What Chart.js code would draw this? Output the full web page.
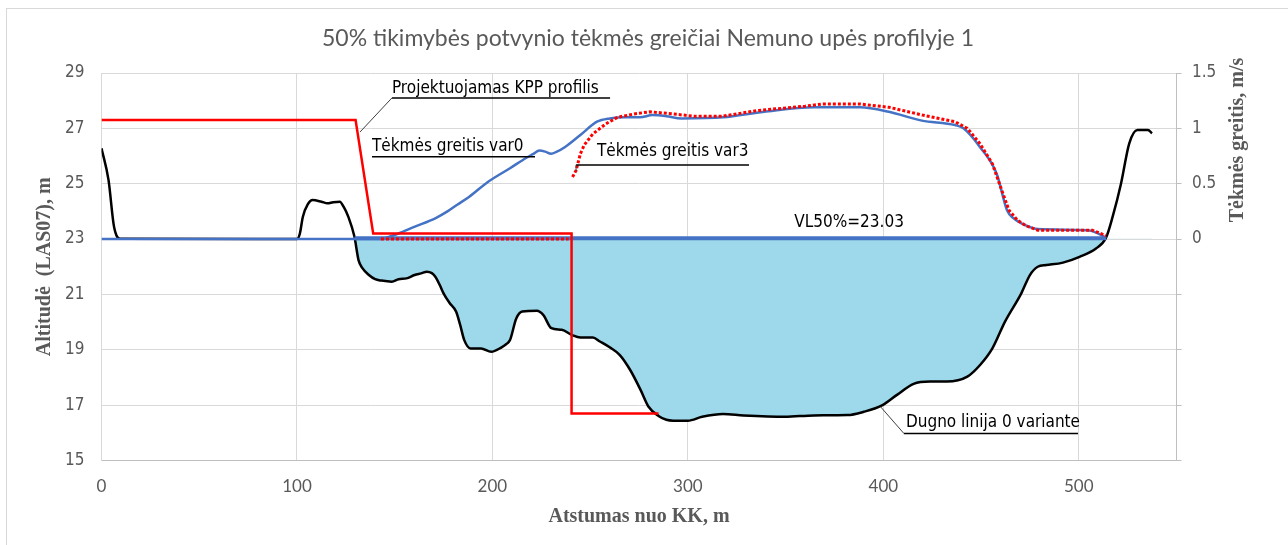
<!DOCTYPE html>
<html>
<head>
<meta charset="utf-8">
<script src="https://cdn.jsdelivr.net/npm/chart.js@4/dist/chart.umd.min.js"></script>
<style>
  html, body { margin: 0; padding: 0; background: #fff; }
  canvas { display: block; }
</style>
</head>
<body>
<canvas id="profileChart" width="1288" height="545"></canvas>
<script>
// river bed (altitude, m) along the cross-section
var bedDist = [0, 3.6, 6.4, 9.6, 100, 101.5, 103, 105.5, 108, 112.5, 115.6, 118.5, 121.9, 124, 126.3, 129.4, 131.5, 133.5, 136.8, 140, 143.2, 148.5, 152, 156, 160.2, 163.5, 166.5, 169, 170.8, 173, 175, 178, 181.4, 183.5, 185.6, 188.8, 194.2, 199.4, 204.7, 207, 209, 212.2, 215.3, 222.8, 226, 230.2, 235.5, 240.8, 245, 251.4, 255, 260, 265.2, 270.5, 275.8, 279.8, 285, 289, 292.5, 300, 307.3, 318, 328.5, 349.7, 364.5, 381.6, 390, 399.6, 407, 415.5, 424, 432.5, 443, 449.5, 455.8, 462.2, 470.6, 475, 479, 483.4, 491.9, 500.4, 508.8, 514, 517.3, 521.6, 525.8, 530, 535.4, 537.5];
var bedAlt = [26.28, 25.13, 23.45, 23.01, 23.0, 23.2, 23.8, 24.25, 24.41, 24.35, 24.29, 24.33, 24.35, 24.15, 23.8, 23.09, 22.24, 21.95, 21.7, 21.55, 21.5, 21.46, 21.55, 21.58, 21.7, 21.76, 21.82, 21.77, 21.64, 21.35, 21.04, 20.7, 20.38, 19.9, 19.35, 19.05, 19.05, 18.93, 19.09, 19.2, 19.35, 20.13, 20.38, 20.41, 20.26, 19.78, 19.72, 19.53, 19.44, 19.44, 19.3, 19.09, 18.81, 18.27, 17.55, 16.95, 16.61, 16.47, 16.44, 16.44, 16.58, 16.68, 16.63, 16.58, 16.63, 16.64, 16.76, 17.0, 17.37, 17.77, 17.85, 17.85, 18.03, 18.45, 19.05, 20.01, 21.04, 21.7, 22.0, 22.06, 22.15, 22.36, 22.66, 23.06, 23.8, 25.0, 26.45, 26.94, 26.94, 26.82];

// designed embankment profile
var kppDist = [0, 130, 139, 240.5, 240.5, 285];
var kppAlt = [27.3, 27.3, 23.2, 23.2, 16.7, 16.7];

// flood water level
var waterLevel = 23.03;
var waterDist = [129.5, 514];

// flow velocity, variant 0 (m/s)
var v0Dist = [0, 143, 147, 152, 160, 171, 177, 182, 188, 198, 209, 217, 221, 224, 227, 230, 233, 237, 245, 253.5, 260, 268, 275.5, 281.9, 289, 296.7, 318, 339, 364.5, 388, 402.8, 419.7, 436.7, 441, 449.5, 458, 463.3, 466.5, 472, 479, 504.6, 510, 514];
var v0Speed = [0, 0, 0.02, 0.05, 0.11, 0.19, 0.25, 0.31, 0.38, 0.52, 0.64, 0.73, 0.77, 0.80, 0.79, 0.77, 0.79, 0.83, 0.94, 1.06, 1.09, 1.10, 1.10, 1.12, 1.11, 1.09, 1.10, 1.15, 1.19, 1.19, 1.15, 1.07, 1.03, 1.00, 0.83, 0.59, 0.26, 0.19, 0.13, 0.09, 0.08, 0.05, 0.01];

// flow velocity, variant 3 (m/s); null splits the dry stretch from the channel
var v3Dist = [143, 239, 240, 241, 242.8, 245, 247, 251.4, 258, 264, 272.5, 280.6, 292.4, 303, 318, 335, 360, 369, 388, 403, 420, 436.7, 443, 449.5, 455.8, 460, 464.3, 468.6, 473, 479, 507, 514];
var v3Speed = [0, 0, null, 0.56, 0.62, 0.77, 0.85, 0.95, 1.04, 1.10, 1.13, 1.15, 1.13, 1.11, 1.11, 1.16, 1.20, 1.22, 1.22, 1.19, 1.12, 1.06, 1.00, 0.86, 0.68, 0.47, 0.26, 0.17, 0.12, 0.08, 0.08, 0.03];

var xTicks = [0, 100, 200, 300, 400, 500];

function pts(xs, ys) {
  return xs.map(function (x, i) { return { x: x, y: ys[i] }; });
}

var narrow = "'Liberation Sans Narrow', 'Arial Narrow', 'DejaVu Sans Condensed', sans-serif";
var serif = "'Liberation Serif', 'Times New Roman', serif";

// callouts, positioned in axis units (distance m, altitude m)
var callouts = [
  { text: 'Projektuojamas KPP profilis', x: 148.6, y: 28.42, lineY: 28.1, lineTo: 260.2, leader: [132.3, 26.87] },
  { text: 'Tėkmės greitis var0', x: 138.4, y: 26.34, lineY: 25.97, lineTo: 221.8, leader: null },
  { text: 'Tėkmės greitis var3', x: 253.5, y: 26.16, lineY: 25.68, lineFrom: 242.8, lineTo: 331.3, leader: [242.8, 25.46] },
  { text: 'Dugno linija 0 variante', x: 411.6, y: 16.37, lineY: 15.98, lineFrom: 410.5, lineTo: 499.6, leader: [398.6, 16.94] }
];

var decorPlugin = {
  id: 'decor',
  beforeDraw: function (chart) {
    var c = chart.ctx;
    c.save();
    c.fillStyle = '#fff';
    c.fillRect(0, 0, chart.width, chart.height);
    c.strokeStyle = '#d9d9d9';
    c.lineWidth = 1;
    c.strokeRect(6.5, 8.5, chart.width + 20, chart.height + 20);
    c.restore();
  },
  afterDatasetsDraw: function (chart) {
    var c = chart.ctx, xs = chart.scales.x, ys = chart.scales.y;
    c.save();
    c.font = '17px ' + narrow;
    c.fillStyle = '#000';
    c.textBaseline = 'middle';
    callouts.forEach(function (n) {
      var tx = xs.getPixelForValue(n.x), ty = ys.getPixelForValue(n.y);
      var ly = ys.getPixelForValue(n.lineY);
      var lx0 = xs.getPixelForValue(n.lineFrom != null ? n.lineFrom : n.x);
      var lx1 = xs.getPixelForValue(n.lineTo);
      c.textAlign = 'left';
      c.fillText(n.text, tx, ty);
      c.strokeStyle = '#000';
      c.lineWidth = 1.5;
      c.beginPath();
      c.moveTo(lx0, ly);
      c.lineTo(lx1, ly);
      c.stroke();
      if (n.leader) {
        c.strokeStyle = '#404040';
        c.lineWidth = 1;
        c.beginPath();
        c.moveTo(lx0, ly);
        c.lineTo(xs.getPixelForValue(n.leader[0]), ys.getPixelForValue(n.leader[1]));
        c.stroke();
      }
    });
    c.textAlign = 'center';
    c.fillText('VL50%=' + waterLevel.toFixed(2), xs.getPixelForValue(382.5), ys.getPixelForValue(23.58));
    c.restore();
  },
  afterDraw: function (chart) {
    var c = chart.ctx, a = chart.chartArea;
    c.save();
    c.fillStyle = '#595959';
    c.textAlign = 'center';
    c.textBaseline = 'middle';
    c.font = '23px Lato, sans-serif';
    c.fillText('50% tikimybės potvynio tėkmės greičiai Nemuno upės profilyje 1', 648, 39);
    c.font = 'bold 20px ' + serif;
    c.fillText('Atstumas nuo KK, m', (a.left + a.right) / 2, 517);
    c.save();
    c.translate(45, (a.top + a.bottom) / 2);
    c.rotate(-Math.PI / 2);
    c.fillText('Altitudė  (LAS07), m', 0, 0);
    c.restore();
    c.save();
    c.translate(1238, 140);
    c.rotate(-Math.PI / 2);
    c.fillText('Tėkmės greitis, m/s', 0, 0);
    c.restore();
    c.restore();
  }
};

new Chart(document.getElementById('profileChart'), {
  type: 'line',
  data: {
    datasets: [
      {
        label: 'Tėkmės greitis var3',
        data: pts(v3Dist, v3Speed),
        yAxisID: 'y2',
        borderColor: '#ff0000',
        borderWidth: 3,
        borderDash: [3, 2],
        spanGaps: false,
        tension: 0,
        order: 1
      },
      {
        label: 'Projektuojamas KPP profilis',
        data: pts(kppDist, kppAlt),
        borderColor: '#ff0000',
        borderWidth: 2.5,
        tension: 0,
        order: 2
      },
      {
        label: 'Tėkmės greitis var0',
        data: pts(v0Dist, v0Speed),
        yAxisID: 'y2',
        borderColor: '#4472c4',
        borderWidth: 2.5,
        cubicInterpolationMode: 'monotone',
        order: 3
      },
      {
        label: 'VL50%',
        data: waterDist.map(function (x) { return { x: x, y: waterLevel }; }),
        borderColor: '#4472c4',
        borderWidth: 4,
        order: 4
      },
      {
        label: 'Dugno linija 0 variante',
        data: pts(bedDist, bedAlt),
        borderColor: '#000',
        borderWidth: 2.5,
        cubicInterpolationMode: 'monotone',
        fill: { target: { value: waterLevel }, above: 'rgba(0,0,0,0)', below: '#9dd9ea' },
        order: 5
      }
    ]
  },
  options: {
    responsive: false,
    animation: false,
    events: [],
    layout: { padding: { top: 73 } },
    elements: { point: { radius: 0 } },
    plugins: {
      legend: { display: false },
      tooltip: { enabled: false }
    },
    scales: {
      x: {
        type: 'linear',
        min: 0,
        max: 550,
        afterBuildTicks: function (s) {
          s.ticks = xTicks.map(function (v) { return { value: v }; });
        },
        afterFit: function (s) { s.height = 84.5; },
        grid: { color: '#d9d9d9', drawTicks: false },
        border: { color: '#bfbfbf' },
        ticks: { color: '#595959', padding: 16, font: { family: 'Lato', size: 17 } }
      },
      y: {
        position: 'left',
        min: 15,
        max: 29,
        ticks: { stepSize: 2, color: '#595959', padding: 17, font: { family: narrow, size: 17 } },
        afterFit: function (s) { s.width = 101.5; },
        grid: { color: '#d9d9d9', drawTicks: false },
        border: { color: '#d9d9d9' }
      },
      y2: {
        position: 'right',
        min: -2,
        max: 1.5,
        ticks: {
          stepSize: 0.5,
          color: '#595959',
          padding: 10.5,
          font: { family: narrow, size: 17 },
          callback: function (v) { return v < 0 ? '' : v; }
        },
        afterFit: function (s) { s.width = 111.5; },
        grid: { drawOnChartArea: false, tickLength: 5, color: '#bfbfbf' },
        border: { color: '#bfbfbf' }
      }
    }
  },
  plugins: [decorPlugin]
});
</script>
</body>
</html>
